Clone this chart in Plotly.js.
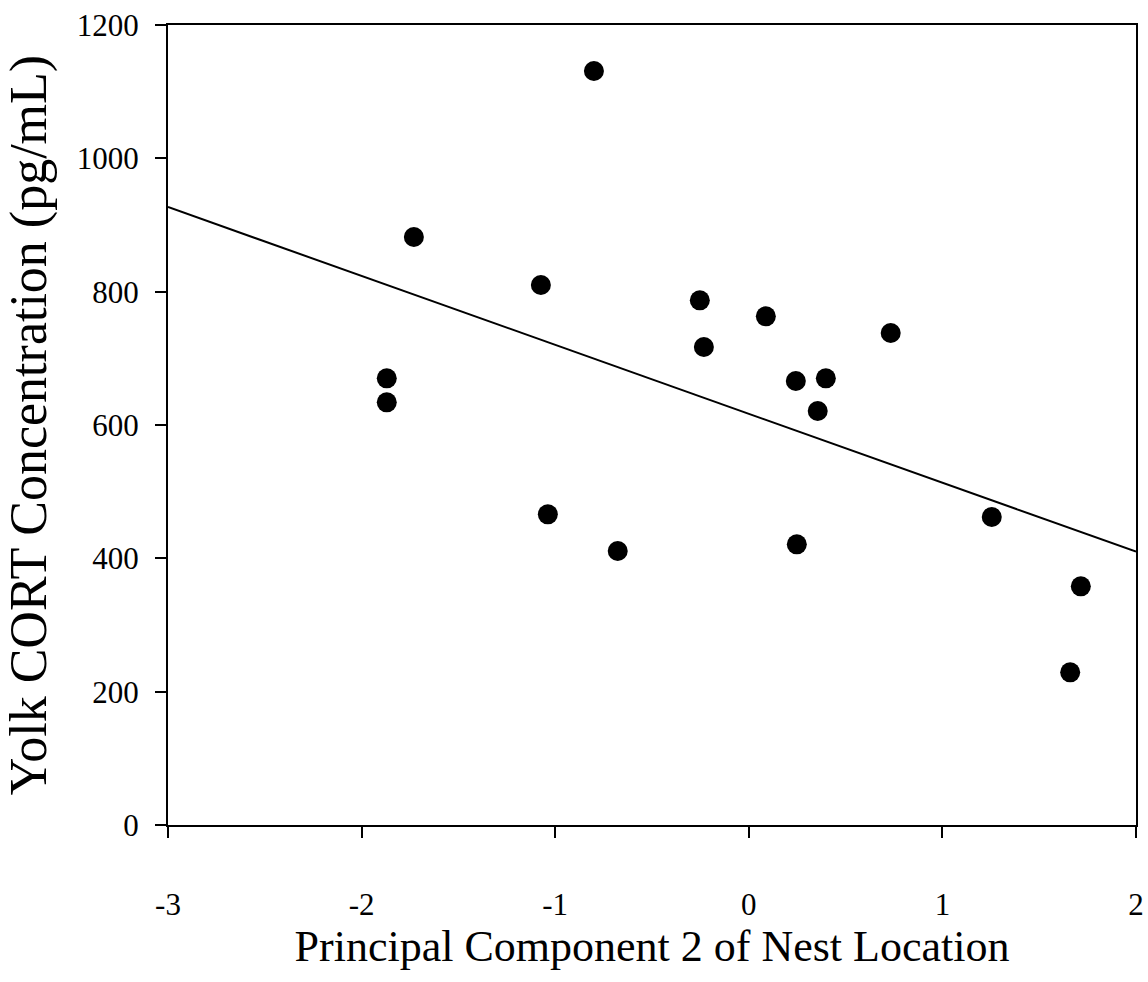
<!DOCTYPE html>
<html>
<head>
<meta charset="utf-8">
<script src="https://cdn.plot.ly/plotly-3.0.1.min.js"></script>
<style>html,body{margin:0;padding:0;background:#fff;}#chart{width:1148px;height:982px;}</style>
</head>
<body>
<div id="chart"></div>
<script>
const pcX = [-0.80, -1.73, -1.074, -0.253, -0.232, 0.088, 0.733, -1.87, -1.87, 0.243, 0.398, 0.356, -1.038, -0.677, 0.248, 1.255, 1.715, 1.66];
const cortY = [1131, 882, 810, 787, 717, 763, 738, 670, 634, 666, 670, 621, 466, 411, 421, 462, 358, 229];
const fitX = [-3, 2];
const fitY = [927, 410];
const xTicks = [-3, -2, -1, 0, 1, 2];
const yTicks = [0, 200, 400, 600, 800, 1000, 1200];

const font = 'Liberation Serif, Times New Roman, serif';
const traces = [
  {x: fitX, y: fitY, mode: 'lines', type: 'scatter', line: {color: '#000', width: 2}, hoverinfo: 'skip', cliponaxis: false},
  {x: pcX, y: cortY, mode: 'markers', type: 'scatter', marker: {color: '#000', size: 20, symbol: 'circle'}, cliponaxis: false}
];
const layout = {
  width: 1148, height: 982,
  margin: {l: 168, r: 12, t: 25, b: 157},
  paper_bgcolor: '#fff', plot_bgcolor: '#fff',
  showlegend: false,
  font: {family: font, color: '#000'},
  xaxis: {
    range: [-3, 2], tickvals: xTicks, ticktext: xTicks.map(String),
    showgrid: false, zeroline: false, showline: true, linecolor: '#000', linewidth: 2, mirror: true,
    ticks: 'outside', ticklen: 11, tickwidth: 2, tickcolor: '#000',
    ticklabelstandoff: 40,
    tickfont: {family: font, size: 31, color: '#000'},
    title: {text: 'Principal Component 2 of Nest Location', font: {family: font, size: 44, color: '#000'}, standoff: 0}
  },
  yaxis: {
    range: [0, 1200], tickvals: yTicks, ticktext: yTicks.map(String),
    showgrid: false, zeroline: false, showline: true, linecolor: '#000', linewidth: 2, mirror: true,
    ticks: 'outside', ticklen: 11, tickwidth: 2, tickcolor: '#000',
    ticklabelstandoff: 10,
    tickfont: {family: font, size: 31, color: '#000'},
    title: {text: 'Yolk CORT Concentration (pg/mL)', font: {family: font, size: 52, color: '#000'}, standoff: 18}
  }
};
Plotly.newPlot('chart', traces, layout, {displayModeBar: false, staticPlot: true});
</script>
</body>
</html>
